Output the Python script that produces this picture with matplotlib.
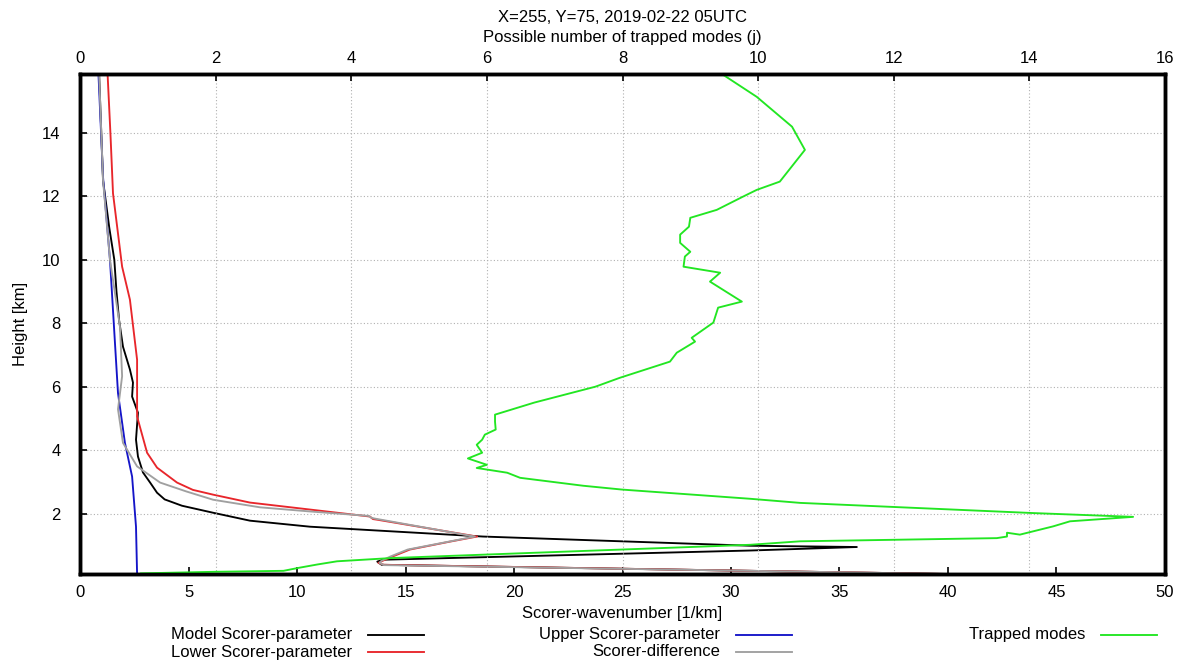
import matplotlib.pyplot as plt
from matplotlib.lines import Line2D

# Model Scorer-parameter (1/km)
h_model = [15.85, 14.0, 12.5, 11.0, 10.0, 9.0, 8.1, 7.26, 6.54, 6.13, 5.69, 5.18, 4.33, 3.8, 3.3,
           2.98, 2.66, 2.45, 2.25, 2.03, 1.78, 1.59, 1.28, 0.99, 0.95, 0.84, 0.55, 0.49, 0.39, 0.2, 0.1]
l_model = [0.88, 0.98, 1.06, 1.35, 1.58, 1.68, 1.8, 1.98, 2.3, 2.44, 2.4, 2.67, 2.58, 2.67, 2.9,
           3.23, 3.55, 3.9, 4.7, 6.13, 7.83, 10.6, 18.57, 30.9, 35.8, 30.9, 13.96, 13.7, 13.9, 30.9, 40.0]

# Lower Scorer-parameter
h_lower = [15.85, 14.0, 12.09, 9.78, 8.74, 6.85, 5.06, 3.92, 3.45, 2.98, 2.75, 2.6, 2.35, 2.13,
           1.91, 1.83, 1.81, 1.28, 1.12, 0.87, 0.65, 0.52, 0.45, 0.39, 0.2, 0.1]
l_lower = [1.27, 1.4, 1.52, 1.94, 2.3, 2.63, 2.63, 3.09, 3.55, 4.47, 5.2, 6.13, 7.83, 10.6,
           13.36, 13.5, 13.7, 18.3, 17.05, 15.2, 14.4, 13.96, 13.75, 14.0, 30.9, 40.0]

# Upper Scorer-parameter
h_upper = [15.85, 12.6, 10.0, 7.38, 5.8, 4.23, 3.17, 1.59, 0.1]
l_upper = [0.85, 1.06, 1.38, 1.61, 1.75, 2.07, 2.4, 2.58, 2.63]

# Scorer-difference
h_diff = [15.85, 14.0, 12.5, 10.0, 7.9, 6.33, 5.29, 4.23, 3.49, 2.98, 2.7, 2.44, 2.2, 2.07,
          1.93, 1.88, 1.85, 1.28, 1.12, 0.87, 0.65, 0.52, 0.45, 0.38, 0.2, 0.1]
l_diff = [0.88, 0.98, 1.06, 1.38, 1.84, 1.94, 1.75, 1.98, 2.63, 3.69, 4.9, 6.13, 8.3, 10.6,
          13.3, 13.4, 13.55, 18.2, 17.0, 15.1, 14.3, 13.9, 13.8, 14.0, 30.9, 40.0]

# Trapped modes (j), top axis
h_trap = [15.83, 15.13, 14.19, 13.46, 12.46, 12.2, 11.99, 11.57, 11.32, 11.04, 10.79, 10.53,
          10.25, 10.1, 9.78, 9.59, 9.31, 8.68, 8.49, 8.02, 7.54, 7.42, 7.07, 6.79, 6.28, 6.0,
          5.5, 5.12, 4.9, 4.65, 4.49, 4.33, 4.17, 3.92, 3.74, 3.54, 3.44, 3.29, 3.13, 2.88,
          2.76, 2.47, 2.34, 2.02, 1.9, 1.76, 1.6, 1.34, 1.4, 1.28, 1.23, 1.13, 1.02, 0.6,
          0.5, 0.4, 0.3, 0.2, 0.17, 0.12]
j_trap = [9.48, 9.98, 10.5, 10.69, 10.32, 9.98, 9.78, 9.39, 9.0, 8.98, 8.85, 8.85,
          9.0, 8.92, 8.9, 9.44, 9.29, 9.76, 9.41, 9.34, 9.02, 9.07, 8.8, 8.7, 7.96, 7.6,
          6.7, 6.12, 6.12, 6.13, 5.97, 5.93, 5.85, 5.93, 5.72, 6.0, 5.85, 6.3, 6.49, 7.42,
          7.99, 9.88, 10.62, 14.05, 15.53, 14.6, 14.35, 13.86, 13.67, 13.67, 13.52, 10.62, 9.88, 4.57,
          3.79, 3.5, 3.24, 3.0, 2.0, 0.9]

plt.rcParams['font.family'] = ['Liberation Sans', 'DejaVu Sans']
W, H = 1189, 660

fig = plt.figure(figsize=(11.89, 6.6), dpi=100)
ax = fig.add_axes([0.0673, 0.1303, 0.9125, 0.7576])

c_black, c_red, c_blue, c_gray, c_green = 'black', '#e8262b', '#1515c8', '#a0a0a0', '#22e622'
lw = 1.35
ax.plot(l_model, h_model, color=c_black, lw=lw)
ax.plot(l_lower, h_lower, color=c_red, lw=lw)
ax.plot(l_upper, h_upper, color=c_blue, lw=lw)
ax.plot(l_diff, h_diff, color=c_gray, lw=lw)

ax.set_xlim(0, 50)
ax.set_ylim(0.1, 15.85)
ax.set_xticks(range(0, 51, 5))
ax.set_yticks(range(2, 15, 2))
ax.tick_params(axis='both', direction='in', length=5, width=1.2, labelsize=12)
ax.tick_params(axis='x', pad=8)
ax.tick_params(axis='y', pad=14)
ax.set_xlabel('Scorer-wavenumber [1/km]', fontsize=12, labelpad=4)
ax.set_ylabel('Height [km]', fontsize=12, labelpad=10)
ax.grid(axis='y', color='#b0b0b0', linestyle=(0, (1, 2)), linewidth=0.8)

ax2 = ax.twiny()
ax2.plot(j_trap, h_trap, color=c_green, lw=lw)
ax2.set_xlim(0, 16)
ax2.set_xticks(range(0, 17, 2))
ax2.tick_params(axis='x', direction='in', length=5, width=1.2, labelsize=12, pad=6)
ax2.grid(axis='x', color='#b0b0b0', linestyle=(0, (1, 2)), linewidth=0.8)
ax2.set_xlabel('Possible number of trapped modes (j)', fontsize=12, labelpad=6)
fig.text(622 / W, 1 - 18 / H, 'X=255, Y=75, 2019-02-22 05UTC', ha='center', va='center',
         fontsize=12)

for a in (ax, ax2):
    for s in a.spines.values():
        s.set_linewidth(2.5)

# legend, gnuplot style: text right-aligned, sample line after it
entries = [('Model Scorer-parameter', c_black, 352, 635),
           ('Lower Scorer-parameter', c_red, 352, 652),
           ('Upper Scorer-parameter', c_blue, 720, 635),
           ('Scorer-difference', c_gray, 720, 652),
           ('Trapped modes', c_green, 1085, 635)]
for label, col, xr, yp in entries:
    fig.text(xr / W, 1 - yp / H, label, ha='right', va='center', fontsize=12)
    fig.add_artist(Line2D([(xr + 16) / W, (xr + 72) / W], [1 - yp / H, 1 - yp / H],
                          color=col, lw=lw))

fig.savefig('out.png', dpi=100)
